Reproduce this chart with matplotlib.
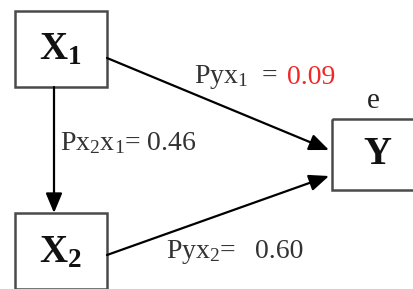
import matplotlib
matplotlib.use("Agg")
import matplotlib.pyplot as plt
from matplotlib.patches import Rectangle

plt.rcParams['mathtext.fontset'] = 'custom'
plt.rcParams['mathtext.rm'] = 'Liberation Serif'
plt.rcParams['mathtext.it'] = 'Liberation Serif:italic'
plt.rcParams['mathtext.bf'] = 'Liberation Serif:bold'
plt.rcParams['font.family'] = ['Liberation Serif', 'DejaVu Serif']

# Path model data
node_names = ["X1", "X2", "Y"]
node_labels = [r"$\mathbf{X_1}$", r"$\mathbf{X_2}$", r"$\mathbf{Y}$"]
path_names = ["Pyx1", "Px2x1", "Pyx2"]
path_coefs = [0.09, 0.46, 0.60]
error_label = "e"

W, H = 414, 289
fig = plt.figure(figsize=(W / 100, H / 100), dpi=100)
ax = fig.add_axes([0, 0, 1, 1])
ax.set_xlim(0, W)
ax.set_ylim(H, 0)
ax.axis('off')

# boxes: (x0, y0, x1, y1) in pixel layout
boxes = {
    "X1": (15, 11, 107, 87),
    "X2": (15, 213, 107, 289),
    "Y": (332, 119, 430, 190),
}
box_color = '#4a4a4a'
for name in node_names:
    x0, y0, x1, y1 = boxes[name]
    ax.add_patch(Rectangle((x0, y0), x1 - x0, y1 - y0, fill=False,
                           edgecolor=box_color, lw=1.8, zorder=2))

label_pos = {"X1": (60, 50), "X2": (60, 253), "Y": (378, 154)}
for name, lab in zip(node_names, node_labels):
    x, y = label_pos[name]
    ax.text(x, y, lab, fontsize=28, ha='center', va='center', color='#111111')

ax.text(373, 101, error_label, fontsize=21, ha='center', va='center', color='#222222')

arrow_kw = dict(arrowstyle='-|>,head_length=0.6,head_width=0.25',
                mutation_scale=20, color='black', lw=1.6, shrinkA=0, shrinkB=0)
# X1 -> Y
ax.annotate('', xy=(329, 150), xytext=(107, 58), arrowprops=arrow_kw)
# X1 -> X2
ax.annotate('', xy=(54, 213), xytext=(54, 87), arrowprops=arrow_kw)
# X2 -> Y
ax.annotate('', xy=(329, 176), xytext=(107, 255), arrowprops=arrow_kw)

fs = 20
tc = '#333333'
ax.text(194, 77, r"Pyx$_1$  =", fontsize=fs, ha='left', va='center', color=tc)
ax.text(287, 77, f"{path_coefs[0]:.2f}", fontsize=fs, ha='left', va='center', color='#f02828')
ax.text(60, 143, r"Px$_2$x$_1$= " + f"{path_coefs[1]:.2f}", fontsize=fs, ha='left', va='center', color=tc)
ax.text(166, 252, r"Pyx$_2$=", fontsize=fs, ha='left', va='center', color=tc)
ax.text(255, 252, f"{path_coefs[2]:.2f}", fontsize=fs, ha='left', va='center', color=tc)

fig.savefig("out.png", dpi=100)
